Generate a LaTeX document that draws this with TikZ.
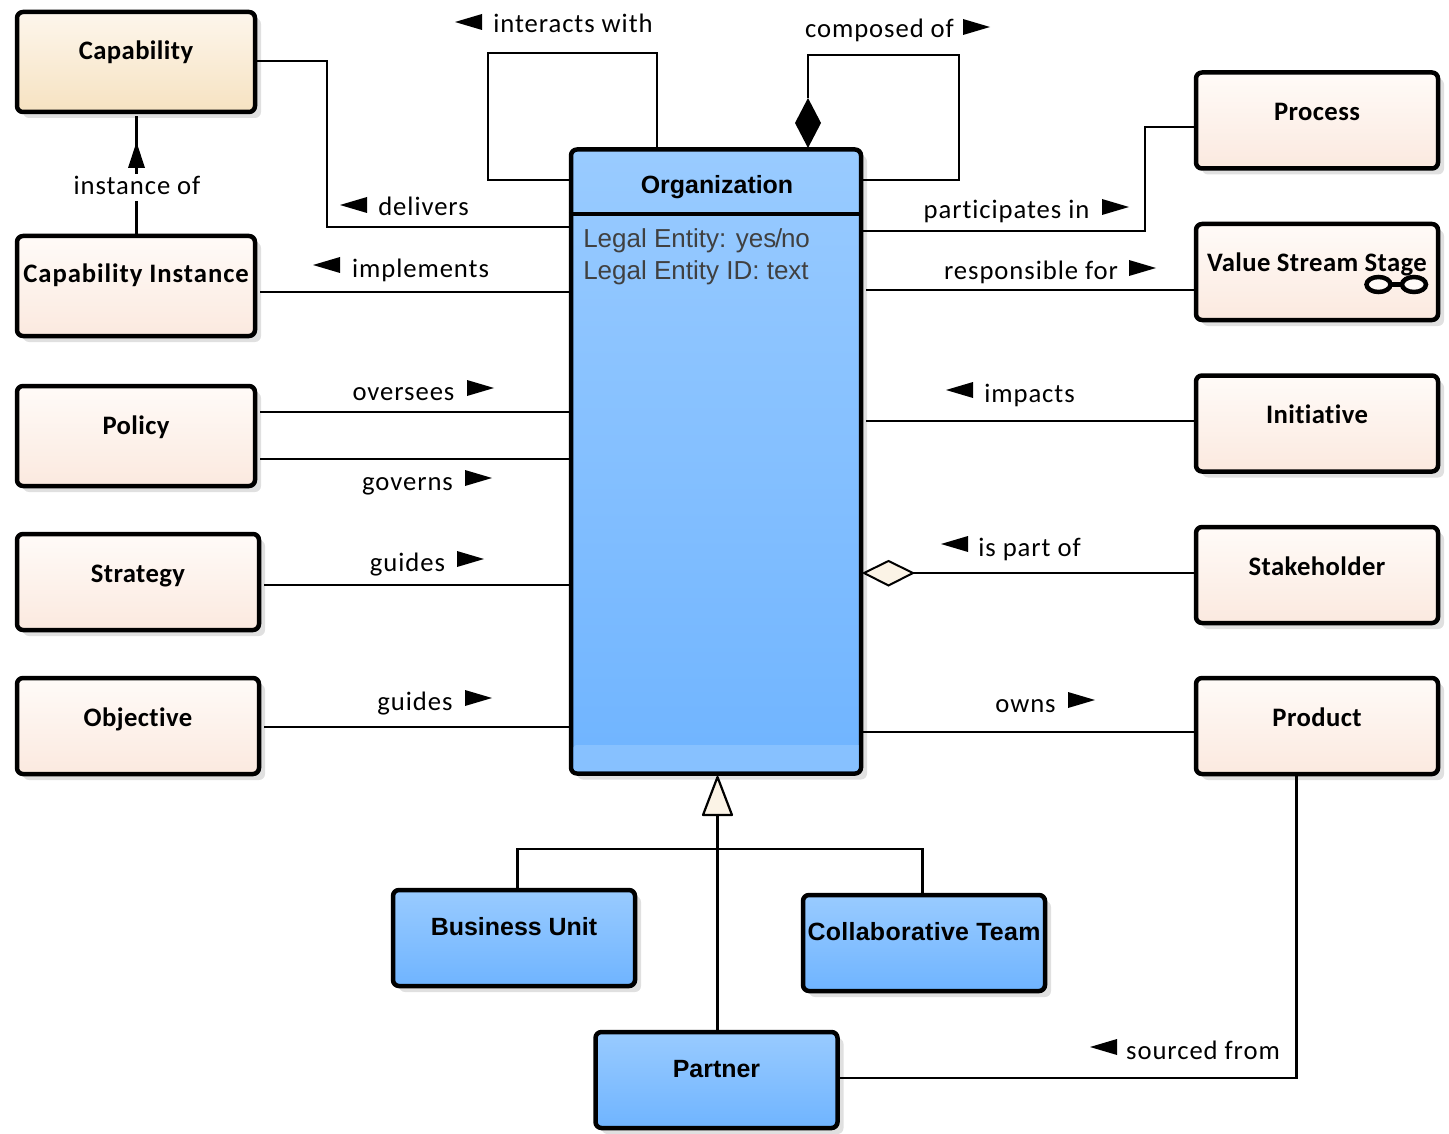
\documentclass[tikz,border=0pt]{standalone}
\usepackage{fontspec}
\setmainfont{Carlito}
\newfontfamily\linkfont[LetterSpace = 3.5, Ligatures = NoCommon]{Carlito}
\newfontfamily\namefont[LetterSpace = 1.5, Ligatures = NoCommon]{Carlito}
\newfontfamily\widenamefont[LetterSpace = 3.5, Ligatures = NoCommon]{Carlito}
\newfontfamily\arialfont{Liberation Sans}
\newfontfamily\widearialfont[LetterSpace = 1.2]{Liberation Sans}
\usetikzlibrary{shadows}
\definecolor{PeachTop}{HTML}{FFFBF8}
\definecolor{PeachBottom}{HTML}{FBE9DF}
\definecolor{SandTop}{HTML}{FDF6EC}
\definecolor{SandBottom}{HTML}{F6E2C1}
\definecolor{BlueTop}{HTML}{99CBFF}
\definecolor{BlueBottom}{HTML}{6FB4FF}
\definecolor{BlueBand}{HTML}{87C1FF}
\definecolor{DiamondCream}{HTML}{FBF3E6}
\definecolor{AttributeGray}{HTML}{404040}

\begin{document}
\begin{tikzpicture}[x = .75pt, y = -.75pt]%
    %
    \def\px{.75pt}%
    %
    \tikzstyle{box} = [draw = black, line width = 4.5*\px, rounded corners = 6*\px, inner xsep = 0pt, inner ysep = 0pt, font = \namefont\fontsize{20}{22}\selectfont\bfseries, drop shadow = {shadow xshift = 6*\px, shadow yshift = -6*\px, fill = black!12, opacity = 1}]%
    \tikzstyle{tallbox} = [box, minimum width = 238*\px, text height = 48*\px, text depth = 52*\px]%
    \tikzstyle{shortbox} = [box, minimum width = 242*\px, text height = 48*\px, text depth = 48*\px]%
    \tikzstyle{peach} = [top color = PeachTop, bottom color = PeachBottom]%
    \tikzstyle{sand} = [top color = SandTop, bottom color = SandBottom]%
    \tikzstyle{blue} = [top color = BlueTop, bottom color = BlueBottom, font = \arialfont\fontsize{18.7}{22}\selectfont\bfseries]%
    \tikzstyle{link} = [draw = black, line width = 2.2*\px]%
    \tikzstyle{gaplink} = [link, shorten <= 3*\px]%
    \tikzstyle{linklabel} = [anchor = base, inner sep = 0pt, font = \linkfont\fontsize{20}{24}\selectfont]%
    %
    \tikzset{%
        leftmark/.pic = {\fill (-13.5, 0) -- (13.5, -8) -- (13.5, 8) -- cycle;},%
        rightmark/.pic = {\fill (13.5, 0) -- (-13.5, -8) -- (-13.5, 8) -- cycle;},%
    }%
    %
    \useasboundingbox (0, 0) rectangle (1449, 1134);%
    %
    % Left column
    \node (capability) [tallbox, sand] at (136, 62) {Capability};%
    \node (capinstance) [tallbox, peach, text height = 46*\px, text depth = 54*\px, font = \widenamefont\fontsize{20}{22}\selectfont\bfseries] at (136, 286) {Capability Instance};%
    \node (policy) [tallbox, peach] at (136, 436) {Policy};%
    \node (strategy) [shortbox, peach] at (138, 582) {Strategy};%
    \node (objective) [shortbox, peach] at (138, 726) {Objective};%
    %
    % Right column
    \node (process) [shortbox, peach] at (1317, 120.5) {Process};%
    \node (valuestage) [shortbox, peach] at (1317, 272) {Value Stream Stage};%
    \node (initiative) [shortbox, peach] at (1317, 423.5) {Initiative};%
    \node (stakeholder) [shortbox, peach] at (1317, 575) {Stakeholder};%
    \node (product) [shortbox, peach] at (1317, 726) {Product};%
    %
    % Subtypes
    \node (businessunit) [shortbox, blue, text height = 45*\px, text depth = 51*\px] at (514, 938) {Business Unit};%
    \node (collabteam) [shortbox, blue, text height = 45*\px, text depth = 51*\px, font = \widearialfont\fontsize{18.7}{22}\selectfont\bfseries] at (924, 943) {Collaborative Team};%
    \node (partner) [shortbox, blue, text height = 45*\px, text depth = 51*\px] at (716.5, 1080) {Partner};%
    %
    % Organization
    \node (organization) [box, blue, minimum width = 290*\px, minimum height = 624*\px] at (716, 461.5) {};%
    \fill [BlueBand] (573.5, 745) -- (858.5, 745) [rounded corners = 3*\px] -- (858.5, 771) -- (573.5, 771) -- cycle;%
    \draw [link, line width = 4.5*\px] (organization.west |- 0, 214) -- (organization.east |- 0, 214);%
    \node (orgtitle) [anchor = base, inner sep = 0pt, font = \arialfont\fontsize{18.7}{22}\selectfont\bfseries] at (717, 194) {Organization};%
    \node (orgattributes) [anchor = north west, inner sep = 0pt, align = left, text = AttributeGray, font = \arialfont\fontsize{19.5}{24.3}\selectfont] at (583, 228) {Legal Entity: yes\kern-1pt/\kern-1pt no\\Legal Entity ID: text};%
    %
    % Value stream glyph
    \draw [line width = 4.5*\px, fill = PeachTop] (1378.5, 284.5) ellipse [x radius = 12, y radius = 7.5];%
    \draw [line width = 4.5*\px, fill = PeachTop] (1414, 284.5) ellipse [x radius = 12, y radius = 7.5];%
    \draw [line width = 4.5*\px] (1390, 284.5) -- (1402, 284.5);%
    %
    % Connectors on the left
    \draw [link] (capability.east |- 0, 61) -- (327, 61) -- (327, 227) -- (organization.west |- 0, 227);%
    \draw [gaplink] (capinstance.east |- 0, 292) -- (organization.west |- 0, 292);%
    \draw [gaplink] (policy.east |- 0, 412) -- (organization.west |- 0, 412);%
    \draw [gaplink] (policy.east |- 0, 459) -- (organization.west |- 0, 459);%
    \draw [gaplink] (strategy.east |- 0, 585) -- (organization.west |- 0, 585);%
    \draw [gaplink] (objective.east |- 0, 727) -- (organization.west |- 0, 727);%
    %
    % Connectors on the right
    \draw [link] (organization.east |- 0, 231) -- (1145, 231) -- (1145, 127) -- (process.west |- 0, 127);%
    \draw [gaplink] (organization.east |- 0, 290) -- (valuestage.west |- 0, 290);%
    \draw [gaplink] (organization.east |- 0, 421) -- (initiative.west |- 0, 421);%
    \draw [link] (913, 573) -- (stakeholder.west |- 0, 573);%
    \draw [link] (organization.east |- 0, 732) -- (product.west |- 0, 732);%
    \draw [link, line width = 2*\px, fill = DiamondCream] (864, 573) -- (888.5, 561) -- (913, 573) -- (888.5, 585.5) -- cycle;%
    %
    % Self associations
    \draw [link] (organization.north -| 657, 0) -- (657, 53) -- (488, 53) -- (488, 180) -- (organization.west |- 0, 180);%
    \draw [link] (808, 98) -- (808, 55) -- (959, 55) -- (959, 180) -- (organization.east |- 0, 180);%
    \fill (808, 98) -- (821, 123) -- (808, 148) -- (795, 123) -- cycle;%
    %
    % Instance of
    \draw [link] (capinstance.north -| 136.5, 0) -- (136.5, 116);%
    \fill (136.5, 142) -- (145, 168) -- (128, 168) -- cycle;%
    \node (instanceof) [linklabel, fill = white, text height = 21*\px, text depth = 6*\px, inner xsep = 2*\px] at (137, 195) {instance of};%
    %
    % Generalization
    \draw [link] (partner.north -| 717.5, 0) -- (717.5, 815);%
    \draw [link] (businessunit.north -| 517.5, 0) -- (517.5, 849) -- (922.5, 849) -- (collabteam.north -| 922.5, 0);%
    \draw [link, fill = DiamondCream, line join = round] (717.5, 777) -- (732, 815) -- (703, 815) -- cycle;%
    %
    % Sourced from
    \draw [link] (product.south -| 1296.5, 0) -- (1296.5, 1078) -- (partner.east |- 0, 1078);%
    %
    % Link labels
    \node (interacts) [linklabel] at (573, 33) {interacts with};%
    \node (composed) [linklabel] at (879.5, 38) {composed of};%
    \node (delivers) [linklabel] at (423.5, 216) {delivers};%
    \node (implements) [linklabel] at (420.5, 278) {implements};%
    \node (oversees) [linklabel] at (403.5, 400) {oversees};%
    \node (governs) [linklabel] at (407.5, 490) {governs};%
    \node (guidesstrategy) [linklabel] at (407.5, 571) {guides};%
    \node (guidesobjective) [linklabel] at (415, 710) {guides};%
    \node (participates) [linklabel] at (1006.5, 219) {participates in};%
    \node (responsible) [linklabel] at (1031, 280) {responsible for};%
    \node (impacts) [linklabel] at (1029.5, 402) {impacts};%
    \node (ispartof) [linklabel] at (1029.5, 556) {is part of};%
    \node (owns) [linklabel] at (1025.5, 712) {owns};%
    \node (sourced) [linklabel] at (1203, 1059) {sourced from};%
    %
    % Direction marks
    \pic at (468.5, 22) {leftmark};%
    \pic at (976.5, 27) {rightmark};%
    \pic at (353.5, 205) {leftmark};%
    \pic at (326.5, 265) {leftmark};%
    \pic at (480.5, 388) {rightmark};%
    \pic at (478.5, 478) {rightmark};%
    \pic at (470.5, 559) {rightmark};%
    \pic at (478.5, 698) {rightmark};%
    \pic at (1115.5, 207) {rightmark};%
    \pic at (1142.5, 268) {rightmark};%
    \pic at (959.5, 390) {leftmark};%
    \pic at (954.5, 544) {leftmark};%
    \pic at (1081.5, 700) {rightmark};%
    \pic at (1103.5, 1047) {leftmark};%
    %
\end{tikzpicture}
\end{document}
